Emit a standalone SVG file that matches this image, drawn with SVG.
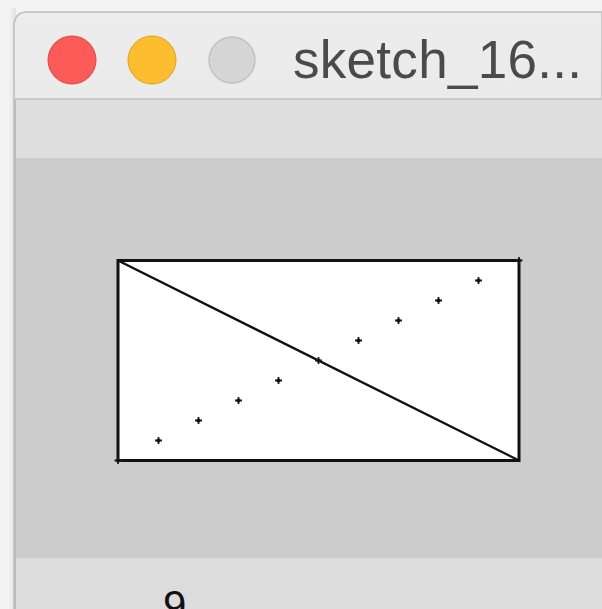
<svg xmlns="http://www.w3.org/2000/svg" width="602" height="609" viewBox="0 0 602 609">
  <defs>
    <linearGradient id="tb" x1="0" y1="0" x2="0" y2="1">
      <stop offset="0" stop-color="#ededed"/>
      <stop offset="1" stop-color="#d9d9d9"/>
    </linearGradient>
    <linearGradient id="sh" x1="0" y1="0" x2="1" y2="0">
      <stop offset="0" stop-color="#f4f4f4"/>
      <stop offset="1" stop-color="#e2e2e2"/>
    </linearGradient>
    <g id="plus">
      <path d="M-3.5,0 H3.5 M0,-3.5 V3.5" stroke="#222" stroke-width="1.8"/>
      <circle r="2" fill="#111"/>
    </g>
    <style>
      .title { font-family: "Liberation Sans", Arial, sans-serif; font-size: 53px; fill: #4a4a4a; }
    </style>
  </defs>
  <rect x="0" y="0" width="602" height="609" fill="#f3f3f3"/>
  <rect x="8" y="8" width="8" height="601" fill="url(#sh)"/>
  <g id="window">
    <path d="M14,609 V26 Q14,12 28,12 H602 V609 Z" fill="url(#tb)" stroke="#bdbdbd" stroke-width="1.5"/>
    <rect x="15" y="98" width="587" height="2" fill="#c9c9c9"/>
    <rect x="15" y="100" width="587" height="58" fill="#dedede"/>
    <rect x="15" y="158" width="587" height="400" fill="#cccccc"/>
    <rect x="15" y="558" width="587" height="51" fill="#dcdcdc"/>
    <line x1="15" y1="100" x2="15" y2="609" stroke="#bcbcbc" stroke-width="2"/>
  </g>
  <g id="buttons">
    <circle cx="72" cy="60" r="24" fill="#fc5b57" stroke="#e0443e" stroke-width="1"/>
    <circle cx="152" cy="60" r="24" fill="#fcbd2e" stroke="#dea123" stroke-width="1"/>
    <circle cx="232" cy="60" r="23" fill="#d5d5d5" stroke="#c2c2c2" stroke-width="1.5"/>
  </g>
  <text class="title" x="293" y="78" textLength="289">sketch_16...</text>
  <g id="sketch">
    <rect x="118" y="260.5" width="401" height="200" fill="#ffffff" stroke="#111" stroke-width="3"/>
    <line x1="118" y1="260.5" x2="519" y2="460.5" stroke="#111" stroke-width="2.4"/>
    <g id="points">
      <use href="#plus" x="158.5" y="440.5"/>
      <use href="#plus" x="198.5" y="420.5"/>
      <use href="#plus" x="238.5" y="400.5"/>
      <use href="#plus" x="278.5" y="380.5"/>
      <use href="#plus" x="318.5" y="360.5"/>
      <use href="#plus" x="358.5" y="340.5"/>
      <use href="#plus" x="398.5" y="320.5"/>
      <use href="#plus" x="438.5" y="300.5"/>
      <use href="#plus" x="478.5" y="280.5"/>
      <use href="#plus" x="118" y="460.5"/>
      <use href="#plus" x="519" y="260.5"/>
    </g>
  </g>
  <text x="163" y="620" font-family="Liberation Sans, Arial, sans-serif" font-size="42" fill="#111">9</text>
</svg>
